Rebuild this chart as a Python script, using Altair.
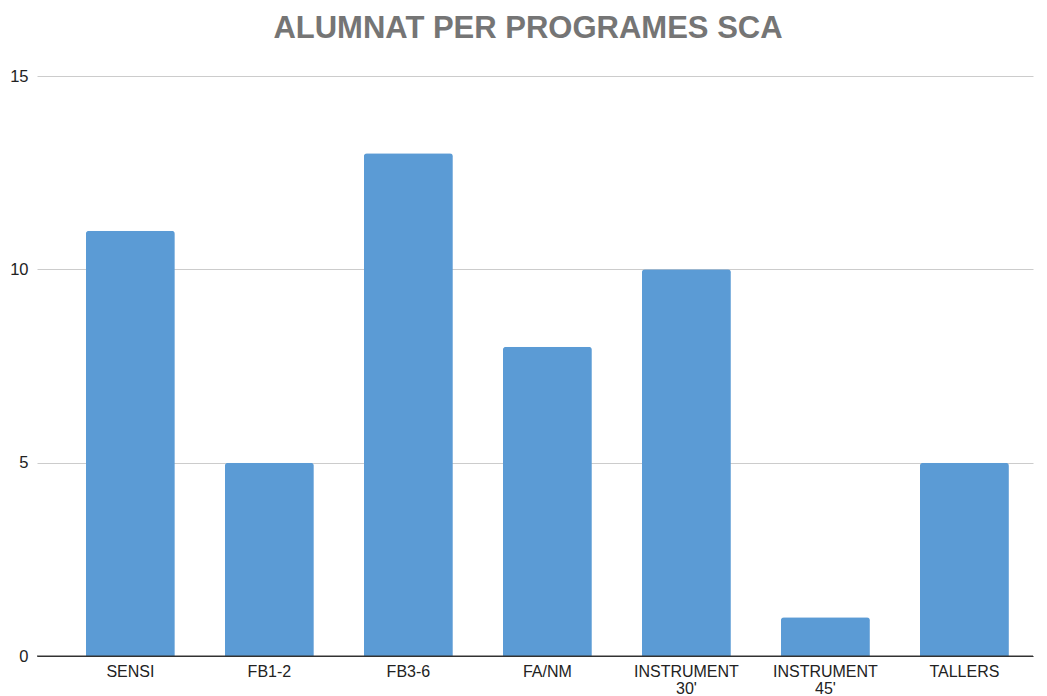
import altair as alt
import pandas as pd

categories = ["SENSI", "FB1-2", "FB3-6", "FA/NM", "INSTRUMENT 30'", "INSTRUMENT 45'", "TALLERS"]
values = [11, 5, 13, 8, 10, 1, 5]
y_ticks = [0, 5, 10, 15]

df = pd.DataFrame({"programa": categories, "alumnat": values})

bars = alt.Chart(df).mark_bar(
    color="#5b9bd5", cornerRadiusTopLeft=3, cornerRadiusTopRight=3
).encode(
    x=alt.X("programa:N", sort=categories, title=None,
            scale=alt.Scale(paddingInner=0.36, paddingOuter=0.2625, align=0.67),
            axis=alt.Axis(labelAngle=0, ticks=False, domain=True, domainColor="#333333",
                          domainWidth=1, labelFont="Liberation Sans", labelFontSize=16,
                          labelColor="#222222", labelPadding=7, labelLineHeight=17,
                          labelExpr="indexof(datum.value, 'INSTRUMENT') == 0 ? split(datum.value, ' ') : datum.value")),
    y=alt.Y("alumnat:Q", title=None,
            scale=alt.Scale(domain=[0, 15], nice=False),
            axis=alt.Axis(values=y_ticks, ticks=False, domain=False, gridColor="#cccccc",
                          labelFont="Liberation Sans", labelFontSize=16.5, labelColor="#222222",
                          labelPadding=9)),
)

zero = alt.Chart(pd.DataFrame({"y": [0]})).mark_rule(color="#333333", strokeWidth=1).encode(
    y="y:Q"
)

chart = alt.layer(bars, zero).properties(
    width=996, height=580,
    padding={"left": 1, "top": 5, "right": 5, "bottom": 0},
    title=alt.TitleParams("ALUMNAT PER PROGRAMES SCA", font="Liberation Sans", fontSize=31,
                          fontWeight="bold", color="#757575", anchor="middle", offset=21,
                          dx=-7, dy=-2),
).configure_view(stroke=None)

chart.save("out.html", embed_options={"renderer": "svg", "actions": False})
